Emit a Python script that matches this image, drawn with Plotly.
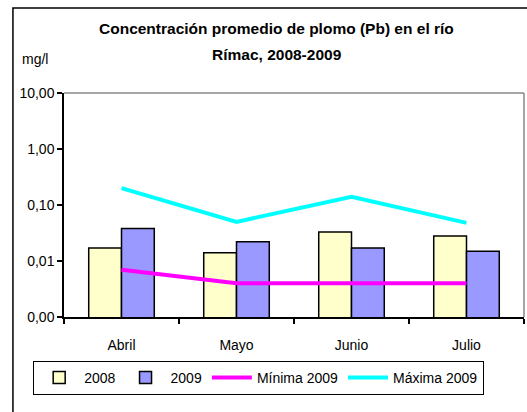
import plotly.graph_objects as go

meses = ["Abril", "Mayo", "Junio", "Julio"]
v2008 = [0.017, 0.014, 0.033, 0.028]
v2009 = [0.038, 0.022, 0.017, 0.015]
minima2009 = [0.007, 0.004, 0.004, 0.004]
maxima2009 = [0.20, 0.05, 0.14, 0.048]
tick_vals = [0.001, 0.01, 0.1, 1, 10]
tick_text = ["0,00", "0,01", "0,10", "1,00", "10,00"]

FONT = "Liberation Sans, Arial, sans-serif"

fig = go.Figure()
fig.add_trace(go.Bar(x=meses, y=v2008, name="2008",
                     marker=dict(color="#FFFFCC", line=dict(color="black", width=1.5))))
fig.add_trace(go.Bar(x=meses, y=v2009, name="2009",
                     marker=dict(color="#9999FF", line=dict(color="black", width=1.5))))
fig.add_trace(go.Scatter(x=meses, y=minima2009, name="Mínima 2009", mode="lines",
                         line=dict(color="#FF00FF", width=4)))
fig.add_trace(go.Scatter(x=meses, y=maxima2009, name="Máxima 2009", mode="lines",
                         line=dict(color="#00FFFF", width=4)))

fig.update_layout(
    width=527, height=412,
    margin=dict(l=64, r=3, t=93, b=95),
    paper_bgcolor="white", plot_bgcolor="white",
    font=dict(family=FONT, size=14, color="black"),
    barmode="group", bargap=0.43, bargroupgap=0,
    showlegend=True,
    legend=dict(orientation="h", x=-0.067, xanchor="left", y=-0.196, yanchor="top",
                bordercolor="black", borderwidth=1, bgcolor="white",
                font=dict(family=FONT, size=14), tracegroupgap=0,
                itemwidth=40),
    xaxis=dict(type="category", showline=True, linecolor="black", linewidth=1.5,
               ticks="outside", tickson="boundaries", ticklen=5, tickcolor="black",
               tickwidth=1.5, showgrid=False, mirror=False, zeroline=False,
               ticklabelstandoff=14, tickfont=dict(size=14)),
    yaxis=dict(type="log", range=[-3, 1], tickvals=tick_vals, ticktext=tick_text,
               showline=True, linecolor="black", linewidth=1.5, ticks="outside",
               ticklen=5, tickcolor="black", tickwidth=1.5, showgrid=False,
               zeroline=False, tickfont=dict(size=14)),
    annotations=[
        dict(text="<b>Concentración promedio de plomo (Pb) en el río</b>", xref="paper",
             yref="paper", x=0.463, y=1.29, xanchor="center", yanchor="middle",
             showarrow=False, font=dict(family=FONT, size=15.5)),
        dict(text="<b>Rímac, 2008-2009</b>", xref="paper",
             yref="paper", x=0.463, y=1.174, xanchor="center", yanchor="middle",
             showarrow=False, font=dict(family=FONT, size=15.5)),
        dict(text="mg/l", xref="paper", yref="paper", x=-0.062, y=1.152,
             xanchor="center", yanchor="middle", showarrow=False,
             font=dict(family=FONT, size=14)),
    ],
    shapes=[
        dict(type="line", xref="paper", yref="paper", x0=0, x1=1, y0=1, y1=1,
             line=dict(color="#888888", width=1.5)),
        dict(type="line", xref="paper", yref="paper", x0=1, x1=1, y0=0, y1=1,
             line=dict(color="#888888", width=1.5)),
        dict(type="rect", xref="paper", yref="paper", x0=-0.111, x1=1.1, y0=-0.5, y1=1.379,
             line=dict(color="black", width=1.5), layer="above"),
    ],
)

fig.write_html("out.html", config={"displayModeBar": False},
               post_script="document.body.style.margin='0';")
